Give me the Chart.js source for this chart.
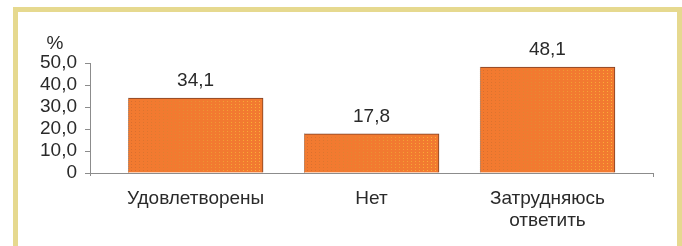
<!DOCTYPE html>
<html>
<head>
<meta charset="utf-8">
<script src="https://cdn.jsdelivr.net/npm/chart.js@4/dist/chart.umd.min.js"></script>
<style>
  html, body { margin: 0; padding: 0; background: #fff; }
  #wrap { position: relative; width: 682px; height: 246px; overflow: hidden; }
  #frame { position: absolute; left: 13px; top: 7px; right: 0; bottom: -20px; border: 5px solid #e6d98f; background: #fff; }
  canvas { position: absolute; left: 0; top: 0; }
</style>
</head>
<body>
<div id="wrap">
  <div id="frame"></div>
  <canvas id="myChart" width="682" height="246"></canvas>
</div>
<script>
// categories and values
const categories = ["Удовлетворены", "Нет", ["Затрудняюсь", "ответить"]];
const values = [34.1, 17.8, 48.1];
const valueLabels = ["34,1", "17,8", "48,1"];
const yTickLabels = ["0", "10,0", "20,0", "30,0", "40,0", "50,0"];

const FONT = "'Liberation Sans', Arial, sans-serif";
const TEXT = "#2a2a2a";
const AXIS = "#8c8c8c";

const barExtras = {
  id: "barExtras",
  afterDatasetsDraw(chart) {
    const c = chart.ctx;
    const meta = chart.getDatasetMeta(0);
    c.save();
    meta.data.forEach((bar, i) => {
      const left = bar.x - bar.width / 2;
      // dotted texture: brownish dots on the light side, yellow on the dark side
      for (let dx = 3; dx < bar.width - 2; dx += 4) {
        const t = dx / bar.width;
        const r = Math.round(205 + 50 * t), g = Math.round(105 + 95 * t), b = Math.round(45 + 15 * t);
        c.fillStyle = `rgba(${r}, ${g}, ${b}, 0.75)`;
        for (let dy = 3; dy < bar.base - bar.y - 1; dy += 3) {
          c.fillRect(Math.round(left + dx), Math.round(bar.y + dy), 1, 1);
        }
      }
      // gray dotted left edge
      c.strokeStyle = "#9a8a80";
      c.setLineDash([1, 1]);
      c.beginPath();
      c.moveTo(left + 0.5, bar.y);
      c.lineTo(left + 0.5, bar.base);
      c.stroke();
      c.setLineDash([]);
      // value label
      c.fillStyle = TEXT;
      c.font = "19px " + FONT;
      c.textAlign = "center";
      c.textBaseline = "middle";
      c.fillText(valueLabels[i], bar.x, bar.y - 17);
    });
    // percent sign above the axis
    const area = chart.chartArea;
    c.fillText("%", area.left - 35, area.top - 19);
    // little end tick on the x axis and y axis stub below zero
    c.strokeStyle = AXIS;
    c.lineWidth = 1;
    c.beginPath();
    c.moveTo(area.right + 0.5, area.bottom);
    c.lineTo(area.right + 0.5, area.bottom + 4);
    c.moveTo(area.left + 0.5, area.bottom);
    c.lineTo(area.left + 0.5, area.bottom + 3);
    c.stroke();
    c.restore();
  }
};

function barGradient(context) {
  const chart = context.chart;
  const el = context.element;
  if (!chart.chartArea || !el || !el.width) return "#f27a30";
  const left = el.x - el.width / 2;
  const g = chart.ctx.createLinearGradient(left, 0, left + el.width, 0);
  g.addColorStop(0, "#fe9c4e");
  g.addColorStop(0.45, "#f8801f");
  g.addColorStop(0.85, "#ec6a22");
  g.addColorStop(1, "#dc5526");
  return g;
}

const ctx = document.getElementById("myChart").getContext("2d");
const chart = new Chart(ctx, {
  type: "bar",
  data: {
    datasets: [{
      data: values.map((v, i) => ({ x: i, y: v })),
      backgroundColor: barGradient,
      borderColor: "#7e3f24",
      borderWidth: { top: 1, right: 1, left: 0, bottom: 0 },
      borderSkipped: false,
      barThickness: 135
    }]
  },
  options: {
    responsive: false,
    animation: false,
    events: [],
    layout: { padding: { left: 10, right: 29, top: 63, bottom: 0 } },
    scales: {
      x: {
        type: "linear",
        offset: false,
        min: -0.6,
        max: 2.6,
        grid: { display: false },
        border: { display: true, color: AXIS, width: 1, dash: [2, 1] },
        afterFit: (s) => { s.height = 73; },
        ticks: {
          stepSize: 1,
          includeBounds: false,
          autoSkip: false,
          maxRotation: 0,
          padding: 7,
          color: TEXT,
          font: { family: FONT, size: 19, lineHeight: 1.15 },
          callback: (v) => (Number.isInteger(v) && categories[v] !== undefined ? categories[v] : "")
        }
      },
      y: {
        min: 0,
        max: 50,
        grid: { drawOnChartArea: false, drawTicks: true, tickLength: 5, color: AXIS },
        border: { display: true, color: AXIS, width: 1, dash: [2, 1] },
        afterFit: (s) => { s.width = 80; },
        ticks: {
          stepSize: 10,
          autoSkip: false,
          padding: 8,
          color: TEXT,
          font: { family: FONT, size: 19 },
          callback: (v, i) => yTickLabels[i]
        }
      }
    },
    plugins: {
      legend: { display: false },
      tooltip: { enabled: false }
    }
  },
  plugins: [barExtras]
});
</script>
</body>
</html>
